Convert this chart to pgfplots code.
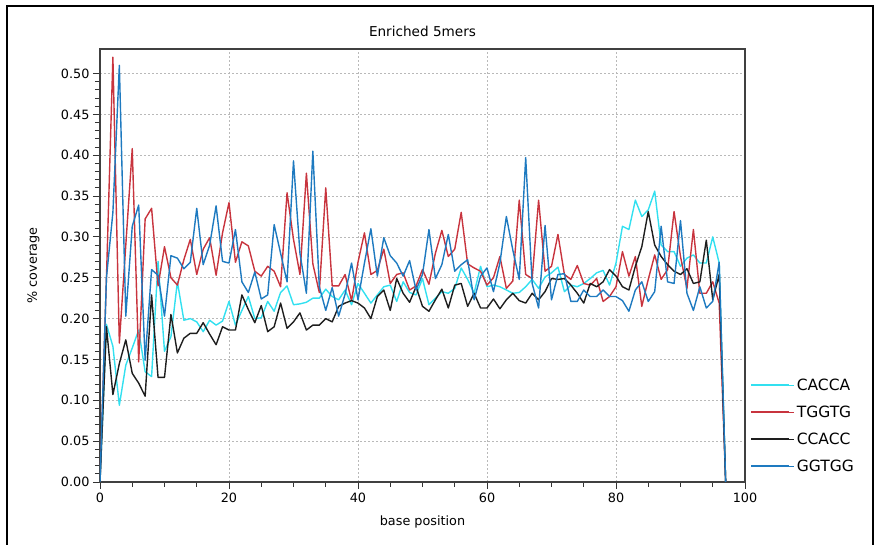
\documentclass[border=0pt]{standalone}
\usepackage{pgfplots}
\usepackage{pgfplotstable}
\pgfplotsset{compat=1.18}
\usepackage{fontspec}
\setmainfont{DejaVu Sans}
\definecolor{ccyan}{RGB}{50,224,240}
\definecolor{cred}{RGB}{200,52,62}
\definecolor{cblack}{RGB}{30,30,30}
\definecolor{cblue}{RGB}{30,122,192}
\pgfplotstableread{
x cacca tggtg ccacc ggtgg
0 0 0 0 0
1 0.193 0.25 0.19 0.25
2 0.166 0.52 0.107 0.33
3 0.094 0.17 0.145 0.51
4 0.143 0.29 0.174 0.203
5 0.164 0.408 0.133 0.313
6 0.186 0.147 0.121 0.339
7 0.135 0.322 0.105 0.149
8 0.129 0.335 0.229 0.26
9 0.27 0.24 0.128 0.253
10 0.16 0.288 0.128 0.203
11 0.178 0.25 0.205 0.277
12 0.245 0.241 0.158 0.274
13 0.198 0.272 0.176 0.261
14 0.2 0.297 0.182 0.269
15 0.196 0.254 0.182 0.335
16 0.184 0.285 0.195 0.266
17 0.198 0.299 0.181 0.29
18 0.192 0.253 0.168 0.338
19 0.197 0.305 0.19 0.27
20 0.221 0.342 0.186 0.268
21 0.192 0.269 0.186 0.309
22 0.21 0.294 0.229 0.245
23 0.227 0.289 0.211 0.232
24 0.2 0.258 0.195 0.257
25 0.201 0.252 0.216 0.224
26 0.221 0.264 0.184 0.229
27 0.209 0.258 0.19 0.315
28 0.232 0.239 0.219 0.28
29 0.24 0.354 0.188 0.245
30 0.217 0.297 0.196 0.393
31 0.218 0.254 0.207 0.28
32 0.22 0.378 0.186 0.231
33 0.225 0.267 0.192 0.405
34 0.225 0.232 0.192 0.239
35 0.236 0.36 0.2 0.21
36 0.227 0.24 0.196 0.238
37 0.223 0.24 0.215 0.203
38 0.235 0.254 0.219 0.23
39 0.217 0.222 0.222 0.268
40 0.243 0.269 0.219 0.223
41 0.231 0.305 0.213 0.268
42 0.219 0.254 0.2 0.31
43 0.229 0.259 0.227 0.252
44 0.239 0.285 0.235 0.299
45 0.241 0.243 0.21 0.277
46 0.221 0.254 0.249 0.268
47 0.245 0.256 0.231 0.252
48 0.232 0.235 0.22 0.271
49 0.229 0.24 0.239 0.235
50 0.249 0.26 0.215 0.254
51 0.217 0.242 0.209 0.309
52 0.225 0.28 0.223 0.249
53 0.233 0.308 0.236 0.266
54 0.231 0.276 0.213 0.303
55 0.237 0.285 0.241 0.258
56 0.262 0.33 0.243 0.266
57 0.248 0.267 0.215 0.272
58 0.231 0.262 0.231 0.223
59 0.264 0.258 0.213 0.252
60 0.239 0.241 0.213 0.262
61 0.241 0.25 0.224 0.233
62 0.239 0.276 0.212 0.268
63 0.235 0.237 0.223 0.325
64 0.231 0.246 0.231 0.284
65 0.232 0.345 0.222 0.248
66 0.239 0.254 0.219 0.397
67 0.248 0.249 0.231 0.243
68 0.237 0.345 0.223 0.213
69 0.251 0.258 0.233 0.314
70 0.256 0.264 0.249 0.223
71 0.263 0.303 0.248 0.254
72 0.233 0.254 0.249 0.255
73 0.241 0.248 0.241 0.221
74 0.239 0.265 0.231 0.221
75 0.243 0.243 0.219 0.235
76 0.249 0.241 0.243 0.227
77 0.256 0.249 0.239 0.227
78 0.259 0.221 0.245 0.235
79 0.241 0.227 0.26 0.227
80 0.268 0.239 0.252 0.227
81 0.313 0.282 0.239 0.222
82 0.309 0.252 0.235 0.209
83 0.345 0.276 0.264 0.235
84 0.325 0.215 0.288 0.245
85 0.333 0.248 0.331 0.221
86 0.356 0.278 0.29 0.233
87 0.29 0.248 0.276 0.313
88 0.282 0.26 0.266 0.245
89 0.282 0.331 0.258 0.243
90 0.264 0.276 0.254 0.32
91 0.274 0.237 0.261 0.231
92 0.278 0.309 0.243 0.21
93 0.268 0.231 0.245 0.239
94 0.268 0.231 0.296 0.213
95 0.3 0.245 0.223 0.221
96 0.268 0.219 0.254 0.269
97 0 0 0 0
}\datatable
\begin{document}
\begin{tikzpicture}[x=1pt,y=1pt]
\useasboundingbox (0,0) rectangle (878,545);
\draw[line width=2pt,black] (7,-2) -- (7,539) -- (873,539) -- (873,-2);
\node[font=\fontsize{13.6}{16}\selectfont] at (422.5,514) {Enriched 5mers};
\begin{axis}[
  at={(100pt,63pt)}, anchor=south west,
  scale only axis, width=645pt, height=433pt,
  xmin=0, xmax=100, ymin=0, ymax=0.53,
  xtick={0,20,40,60,80,100},
  minor xtick={5,10,15,25,30,35,45,50,55,65,70,75,85,90,95},
  ytick={0,0.05,0.1,0.15,0.2,0.25,0.3,0.35,0.4,0.45,0.5},
  minor y tick num=4,
  tick align=outside, tick pos=left,
  major tick length=7pt, minor tick length=5pt,
  every tick/.style={black!80, line width=0.9pt},
  grid=major,
  major grid style={gray!55, dash pattern=on 2pt off 2pt, line width=0.8pt},
  axis line style={black!75, line width=1.3pt},
  /pgf/number format/assume math mode=true,
  yticklabel style={/pgf/number format/fixed, /pgf/number format/fixed zerofill, /pgf/number format/precision=2},
  scaled y ticks=false,
  tick label style={font=\fontsize{12.8}{15}\selectfont},
  xlabel={base position}, ylabel={\% coverage},
  label style={font=\fontsize{12.8}{15}\selectfont},
  xlabel style={at={(axis description cs:0.5,0)}, anchor=north, yshift=-30pt},
  ylabel style={at={(axis description cs:0,0.5)}, anchor=south, xshift=0pt, yshift=57pt},
  legend style={at={(axis description cs:1,0)}, anchor=south west, xshift=2pt, yshift=5pt,
    draw=none, fill=none, font=\fontsize{15.5}{18}\selectfont, row sep=10pt,
    legend cell align=left},
  legend image code/.code={\draw[#1, line width=1.8pt] (0pt,0pt) -- (38pt,0pt); \path (0pt,0pt) -- (43pt,0pt);},
  every axis plot/.append style={line width=1.4pt, line join=round},
  clip=true,
]
\addplot[ccyan, mark=none] table[x=x, y=cacca] {\datatable};
\addlegendentry{CACCA}
\addplot[cred, mark=none] table[x=x, y=tggtg] {\datatable};
\addlegendentry{TGGTG}
\addplot[cblack, mark=none] table[x=x, y=ccacc] {\datatable};
\addlegendentry{CCACC}
\addplot[cblue, mark=none] table[x=x, y=ggtgg] {\datatable};
\addlegendentry{GGTGG}
\end{axis}
\end{tikzpicture}
\end{document}
